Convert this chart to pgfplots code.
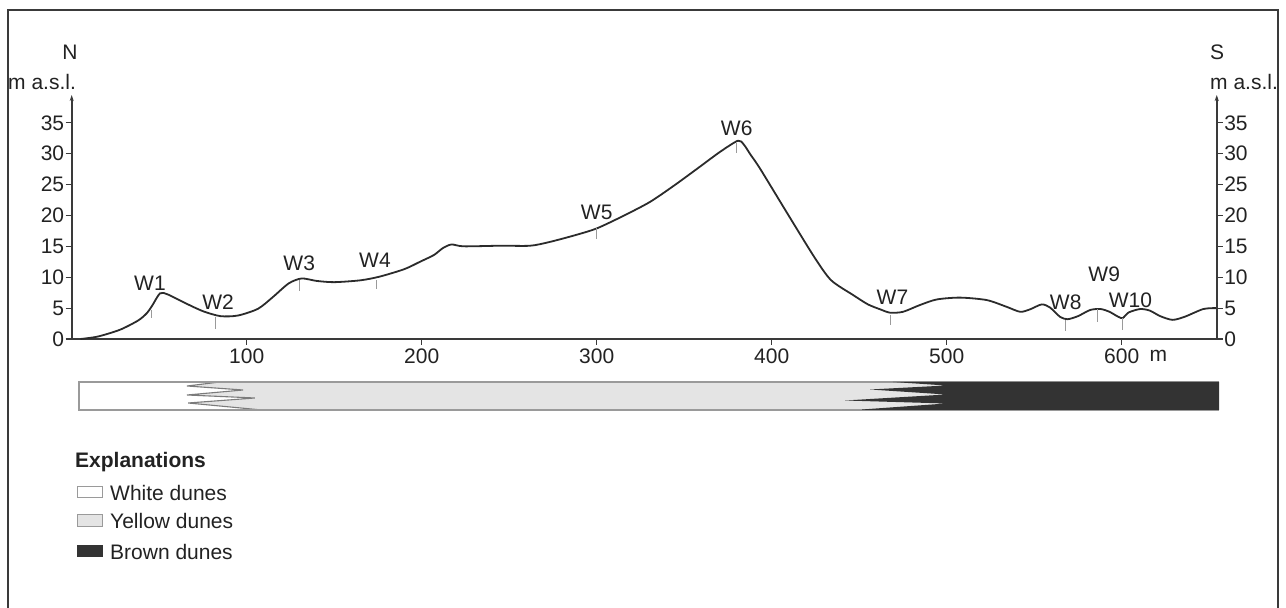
\documentclass[border=0pt]{standalone}
\usepackage{pgfplots}
\pgfplotsset{compat=1.18}
\usepackage{fontspec}
\setmainfont{Liberation Sans}
\usetikzlibrary{arrows.meta}
\definecolor{axiscol}{HTML}{3A3A3A}
\definecolor{curvecol}{HTML}{2B2B2B}
\definecolor{txt}{HTML}{222222}
\definecolor{yellowc}{HTML}{E4E4E4}
\definecolor{brownc}{HTML}{333333}
\definecolor{edgec}{HTML}{9A9A9A}
\begin{document}
\begin{tikzpicture}[x=1pt,y=1pt,font=\fontsize{21}{25}\selectfont,text=txt]
\useasboundingbox (0,0) rectangle (1286,608);
\draw[line width=1.4pt, axiscol] (8,-32) -- (8,598) -- (1278,598) -- (1278,-32);
% main axis (left)
\begin{axis}[
  at={(71.7pt,269pt)}, anchor=south west,
  scale only axis, width=1145pt, height=244pt,
  xmin=0, xmax=654.3, ymin=0, ymax=39.5,
  axis x line=bottom, axis y line=left,
  x axis line style={-, line width=1.6pt, axiscol},
  y axis line style={-{Stealth[length=6pt,width=4pt]}, line width=1.6pt, axiscol},
  xtick={100,200,300,400,500,600},
  ytick={0,5,10,15,20,25,30,35},
  tick align=outside, major tick length=6pt,
  tick style={line width=1.2pt, axiscol},
  /pgf/number format/assume math mode=true,
  ticklabel style={font=\fontsize{21}{25}\selectfont, text=txt},
  yticklabel style={xshift=2pt},
  clip=false,
]
\addplot[curvecol, line width=1.8pt, smooth, tension=0.45] coordinates {
(5,0) (15,0.4) (27.6,1.5) (38,3) (43,4.2) (46,5.4) (50.5,7.4) (55,7.2) (65,5.8)
(75,4.5) (85,3.7) (95,3.8) (106.5,4.9) (115,6.8) (124,9) (131.4,9.8) (140,9.4)
(150,9.2) (165,9.5) (176,10.1) (190,11.3) (199,12.5) (207,13.6) (212,14.7)
(217,15.3) (224,15.0) (245,15.1) (262,15.1) (273,15.7) (287.6,16.8) (300,17.9) (315,19.9)
(330.5,22.2) (345,25) (359,27.9) (370.5,30.3) (380.7,32.1) (384,31.5) (388,29.8)
(393.3,27.6) (409,20.3) (424.7,13.1) (434,9.5) (446.6,7.1) (455,5.6) (462,4.8) (467.6,4.26)
(475,4.4) (484.7,5.5) (494.3,6.4) (507.6,6.7) (522.9,6.3) (534.3,5.2) (542,4.4)
(547.6,4.8) (554.3,5.6) (559,5.1) (564.7,3.6) (569,3.2) (575,3.7) (582,4.7)
(588,4.85) (593,4.4) (598,3.6) (600.6,3.4) (604,4.3) (610.5,4.85) (616,4.6)
(622,3.7) (629,3.1) (636,3.6) (646.6,4.85) (654,5.0)};
% sample markers
\addplot[edgec, line width=0.9pt] coordinates {(45.3,4.7) (45.3,3.4)};
\addplot[edgec, line width=0.9pt] coordinates {(82.3,3.6) (82.3,1.6)};
\addplot[edgec, line width=0.9pt] coordinates {(130,9.5) (130,7.8)};
\addplot[edgec, line width=0.9pt] coordinates {(174,9.5) (174,8.1)};
\addplot[edgec, line width=0.9pt] coordinates {(300,18.0) (300,16.2)};
\addplot[edgec, line width=0.9pt] coordinates {(380,31.7) (380,30.1)};
\addplot[edgec, line width=0.9pt] coordinates {(468,3.9) (468,2.3)};
\addplot[edgec, line width=0.9pt] coordinates {(568,3.1) (568,1.3)};
\addplot[edgec, line width=0.9pt] coordinates {(586,4.85) (586,2.75)};
\addplot[edgec, line width=0.9pt] coordinates {(600.6,3.4) (600.6,1.5)};
\node at (axis cs:44.7,9.06) {W1};
\node at (axis cs:83.6,6.0) {W2};
\node at (axis cs:130,12.3) {W3};
\node at (axis cs:173.3,12.8) {W4};
\node at (axis cs:300,20.5) {W5};
\node at (axis cs:380,34.1) {W6};
\node at (axis cs:469,6.8) {W7};
\node at (axis cs:568,6.0) {W8};
\node at (axis cs:590,10.5) {W9};
\node at (axis cs:605,6.3) {W10};
\node[anchor=north, inner sep=0pt] at (axis cs:621,-1.75) {m};
\end{axis}
% right axis
\begin{axis}[
  at={(71.7pt,269pt)}, anchor=south west,
  scale only axis, width=1145pt, height=244pt,
  xmin=0, xmax=654.3, ymin=0, ymax=39.5,
  axis x line=none, axis y line=right,
  y axis line style={-{Stealth[length=6pt,width=4pt]}, line width=1.6pt, axiscol},
  ytick={0,5,10,15,20,25,30,35},
  tick align=outside, major tick length=6pt,
  tick style={line width=1.2pt, axiscol},
  /pgf/number format/assume math mode=true,
  ticklabel style={font=\fontsize{21}{25}\selectfont, text=txt},
  yticklabel style={xshift=-2pt},
]
\addplot[draw=none] coordinates {(0,0) (654,5)};
\end{axis}
% dune zonation bar
\begin{axis}[
  at={(71.7pt,198pt)}, anchor=south west,
  scale only axis, width=1145pt, height=28pt,
  xmin=0, xmax=654.3, ymin=382, ymax=410, y dir=reverse,
  hide axis, clip=false,
]
\addplot[fill=yellowc, draw=none] coordinates {(4.17,382) (655.6,382) (655.6,410) (4.17,410)} -- cycle;
\addplot[fill=white, draw=none] coordinates {(4.17,382) (84.7,382) (65.9,386) (97.9,390) (65.9,395) (104.7,398) (66.5,403) (108.7,410) (4.17,410)} -- cycle;
\addplot[edgec!80!black, line width=1.1pt] coordinates {(84.7,382) (65.9,386) (97.9,390) (65.9,395) (104.7,398) (66.5,403) (108.7,410)};
\addplot[edgec, line width=1.1pt] coordinates {(655.6,382) (4.17,382) (4.17,410) (655.6,410)};
\addplot[fill=brownc, draw=none] coordinates {(655.6,382) (469.3,382) (499.6,385.5) (456.2,389.5) (499.6,394.5) (441.9,400.5) (499.6,403.5) (451.6,409.5) (451.6,410) (655.6,410)} -- cycle;
\end{axis}
% axis titles
\node at (70,556) {N};
\node[anchor=west, inner sep=0pt] at (8,526) {m a.s.l.};
\node at (1217,556) {S};
\node[anchor=west, inner sep=0pt] at (1210,526) {m a.s.l.};
% legend
\node[anchor=west, inner sep=0pt, font=\fontsize{21}{25}\selectfont\bfseries] at (75,146) {Explanations};
\draw[edgec, line width=1pt, fill=white] (77,121) rectangle (102,110);
\draw[edgec, line width=1pt, fill=yellowc] (77,93) rectangle (102,81);
\draw[brownc, line width=1pt, fill=brownc] (77,62) rectangle (102,51);
\node[anchor=west, inner sep=0pt] at (110,115) {White dunes};
\node[anchor=west, inner sep=0pt] at (110,87) {Yellow dunes};
\node[anchor=west, inner sep=0pt] at (110,56) {Brown dunes};
\end{tikzpicture}
\end{document}
